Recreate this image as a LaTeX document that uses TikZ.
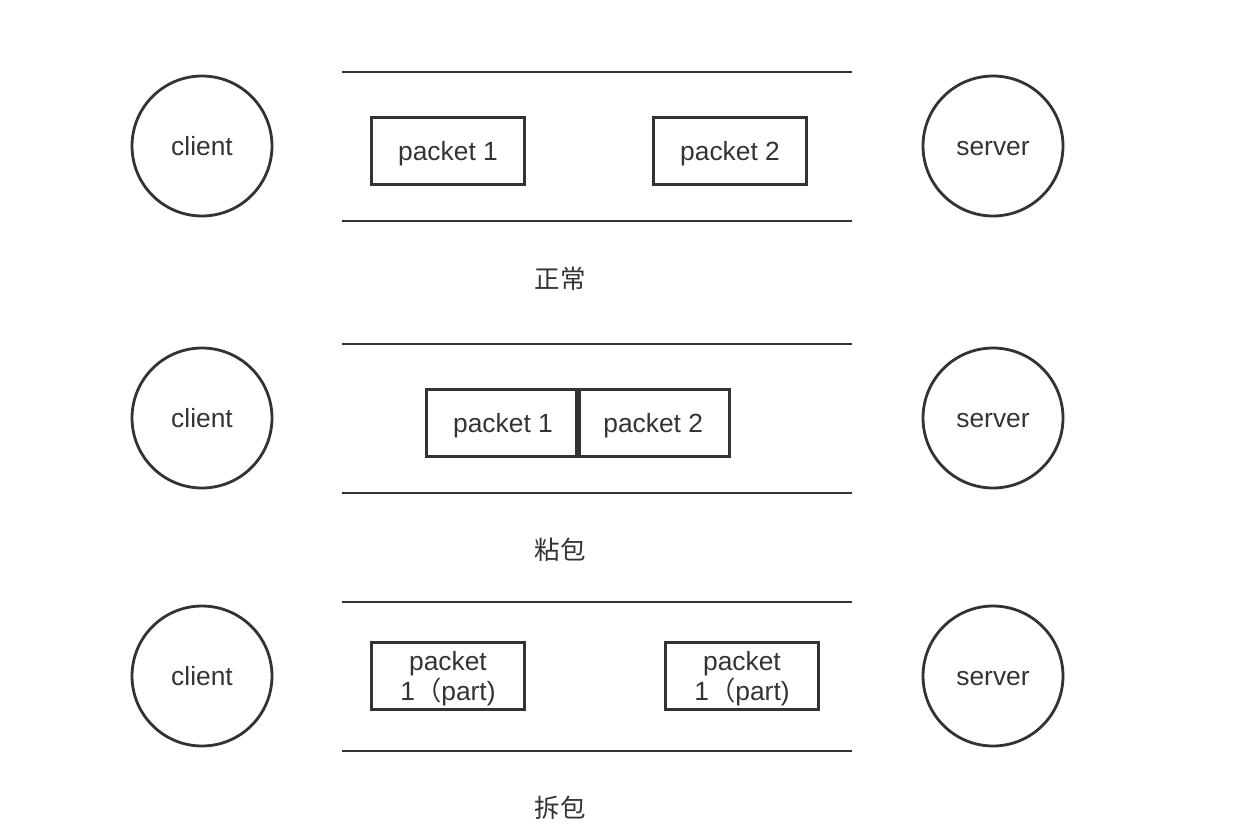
\documentclass[tikz,border=0pt]{standalone}
\usepackage{fontspec}
\setmainfont{Liberation Sans}
\newfontfamily\cjk{Noto Sans CJK SC}
\usetikzlibrary{positioning}

\begin{document}
\begin{tikzpicture}[x=0.02cm,y=-0.02cm,line width=1.6pt,draw=black!80,
    font=\fontsize{15}{17.5}\selectfont,text=black!80]
  \tikzstyle{host}=[circle,draw,minimum size=2.8cm,inner sep=0pt,text height=10.5pt,text depth=0pt]
  \tikzstyle{packet}=[rectangle,draw,minimum width=3.06cm,minimum height=1.33cm,inner sep=1pt,align=center,text depth=0pt]
  \tikzstyle{caption}=[font=\cjk\fontsize{14.5}{17}\selectfont]
  \tikzstyle{pipe}=[line width=1.6pt]

  \useasboundingbox (0,0) rectangle (1254,838);

  % normal
  \node[host] (c1) at (202,146) {client};
  \node[host] (s1) at (993,146) {server};
  \coordinate (t1a) at (342,72);  \coordinate (t1b) at (852,72);
  \coordinate (b1a) at (342,221); \coordinate (b1b) at (852,221);
  \draw[pipe] (t1a) -- (t1b);
  \draw[pipe] (b1a) -- (b1b);
  \node[packet] (p11) at (448,151) {packet 1};
  \node[packet] (p12) at (730,151) {packet 2};
  \node[caption] (l1) at (560,279) {正常};

  % sticky
  \node[host] (c2) at (202,418) {client};
  \node[host] (s2) at (993,418) {server};
  \coordinate (t2a) at (342,344); \coordinate (t2b) at (852,344);
  \coordinate (b2a) at (342,493); \coordinate (b2b) at (852,493);
  \draw[pipe] (t2a) -- (t2b);
  \draw[pipe] (b2a) -- (b2b);
  \node[packet,outer sep=0pt] (p21) at (503,423) {packet 1};
  \node[packet,outer sep=0pt,right=-1.6pt of p21] (p22) {packet 2};
  \node[caption] (l2) at (560,550) {粘包};

  % split
  \node[host] (c3) at (202,676) {client};
  \node[host] (s3) at (993,676) {server};
  \coordinate (t3a) at (342,602); \coordinate (t3b) at (852,602);
  \coordinate (b3a) at (342,751); \coordinate (b3b) at (852,751);
  \draw[pipe] (t3a) -- (t3b);
  \draw[pipe] (b3a) -- (b3b);
  \node[packet] (p31) at (448,676) {packet\\1{\cjk（}part)};
  \node[packet] (p32) at (742,676) {packet\\1{\cjk（}part)};
  \node[caption] (l3) at (560,808) {拆包};
\end{tikzpicture}
\end{document}
